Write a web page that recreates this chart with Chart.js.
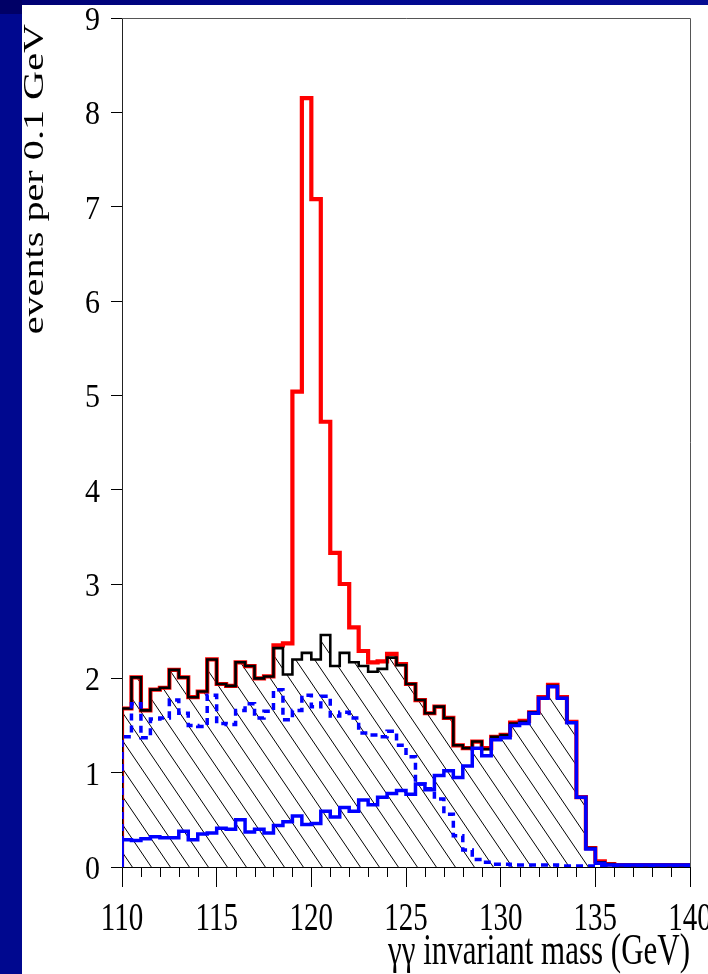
<!DOCTYPE html>
<html>
<head>
<meta charset="utf-8">
<script src="https://cdn.jsdelivr.net/npm/chart.js@4/dist/chart.umd.min.js"></script>
<style>
  html, body { margin: 0; padding: 0; width: 708px; height: 974px; overflow: hidden; background: #ffffff; }
  #wrap { position: absolute; left: 0; top: 0; width: 708px; height: 974px; }
  #leftband { position: absolute; left: 0; top: 0; width: 22px; height: 974px; background: #00088f; z-index: 2; }
  #topband { position: absolute; left: 0; top: 0; width: 708px; height: 5px; background: linear-gradient(90deg, #000070, #00088f 40%, #060c92); z-index: 2; }
  #corner { position: absolute; left: 0; top: 0; width: 22px; height: 14px; background: #000066; z-index: 3; }
</style>
</head>
<body>
<div id="wrap"><canvas id="c" width="708" height="974"></canvas></div>
<div id="leftband"></div>
<div id="topband"></div>
<div id="corner"></div>
<script>
// Lower edges of the 0.5 GeV mass bins (GeV)
const binLow = [
  110.0, 110.5, 111.0, 111.5, 112.0, 112.5, 113.0, 113.5, 114.0, 114.5,
  115.0, 115.5, 116.0, 116.5, 117.0, 117.5, 118.0, 118.5, 119.0, 119.5,
  120.0, 120.5, 121.0, 121.5, 122.0, 122.5, 123.0, 123.5, 124.0, 124.5,
  125.0, 125.5, 126.0, 126.5, 127.0, 127.5, 128.0, 128.5, 129.0, 129.5,
  130.0, 130.5, 131.0, 131.5, 132.0, 132.5, 133.0, 133.5, 134.0, 134.5,
  135.0, 135.5, 136.0, 136.5, 137.0, 137.5, 138.0, 138.5, 139.0, 139.5
];
const binWidth = 0.5;

// Signal + background
const total = [
  1.68, 2.01, 1.66, 1.88, 1.90, 2.09, 2.01, 1.80, 1.86, 2.20,
  1.94, 1.92, 2.17, 2.13, 2.00, 2.02, 2.35, 2.37, 5.04, 8.15,
  7.08, 4.72, 3.33, 3.00, 2.54, 2.29, 2.17, 2.18, 2.26, 2.15,
  1.94, 1.77, 1.63, 1.70, 1.58, 1.29, 1.26, 1.33, 1.26, 1.38,
  1.40, 1.53, 1.55, 1.64, 1.80, 1.93, 1.80, 1.54, 0.74, 0.20,
  0.06, 0.03, 0.02, 0.02, 0.02, 0.02, 0.02, 0.02, 0.02, 0.02
];

// Total background (hatched)
const background = [
  1.68, 2.01, 1.66, 1.88, 1.90, 2.09, 2.01, 1.80, 1.86, 2.20,
  1.94, 1.92, 2.17, 2.13, 2.00, 2.02, 2.32, 2.04, 2.20, 2.27,
  2.20, 2.46, 2.13, 2.27, 2.17, 2.13, 2.07, 2.10, 2.22, 2.14,
  1.94, 1.77, 1.63, 1.70, 1.58, 1.29, 1.26, 1.33, 1.25, 1.38,
  1.40, 1.52, 1.54, 1.64, 1.79, 1.92, 1.79, 1.53, 0.74, 0.20,
  0.05, 0.03, 0.02, 0.02, 0.02, 0.02, 0.02, 0.02, 0.02, 0.02
];

// Rising background component (solid blue)
const bkgRising = [
  0.29, 0.28, 0.30, 0.32, 0.31, 0.31, 0.38, 0.29, 0.35, 0.36,
  0.41, 0.40, 0.50, 0.37, 0.40, 0.36, 0.44, 0.48, 0.54, 0.45,
  0.46, 0.59, 0.53, 0.63, 0.59, 0.71, 0.66, 0.74, 0.78, 0.81,
  0.77, 0.88, 0.82, 0.97, 1.02, 0.95, 1.07, 1.26, 1.18, 1.35,
  1.37, 1.50, 1.52, 1.63, 1.79, 1.91, 1.79, 1.53, 0.74, 0.19,
  0.04, 0.02, 0.02, 0.02, 0.02, 0.02, 0.02, 0.02, 0.02, 0.02
];

// Falling background component (dashed blue)
const bkgFalling = [
  1.38, 1.73, 1.37, 1.57, 1.58, 1.77, 1.63, 1.50, 1.49, 1.82,
  1.52, 1.51, 1.66, 1.73, 1.58, 1.65, 1.88, 1.56, 1.66, 1.82,
  1.70, 1.81, 1.60, 1.64, 1.58, 1.42, 1.40, 1.38, 1.44, 1.29,
  1.17, 0.88, 0.83, 0.72, 0.56, 0.33, 0.18, 0.08, 0.05, 0.03,
  0.03, 0.02, 0.02, 0.02, 0.02, 0.02, 0.01, 0.01, 0.01, 0.01,
  0.01, 0.01, 0.01, 0.01, 0.01, 0.01, 0.01, 0.01, 0.01, 0.01
];

const xTicks = [110, 115, 120, 125, 130, 135, 140];
const yTicks = [0, 1, 2, 3, 4, 5, 6, 7, 8, 9];
const xTitle = 'γγ invariant mass (GeV)';
const yTitle = 'events per 0.1 GeV';

// Histogram outline: start from zero at the first edge, one point per bin, close at the last edge
function histPoints(vals) {
  const pts = [{ x: binLow[0], y: 0 }];
  vals.forEach((v, i) => pts.push({ x: binLow[i], y: v }));
  pts.push({ x: binLow[vals.length - 1] + binWidth, y: vals[vals.length - 1] });
  return pts;
}

// Diagonal line hatching, running from upper left to lower right
function hatchPattern(ctx) {
  const w = 19, h = 28;
  const t = document.createElement('canvas');
  t.width = w; t.height = h;
  const g = t.getContext('2d');
  g.strokeStyle = '#000';
  g.lineWidth = 1;
  g.beginPath();
  for (const dx of [-w, 0, w]) {
    g.moveTo(dx - w, -h);
    g.lineTo(dx + 2 * w, 2 * h);
  }
  g.stroke();
  return ctx.createPattern(t, 'repeat');
}

const SERIF = "'Liberation Serif', 'Times New Roman', serif";
const canvas = document.getElementById('c');
const ctx = canvas.getContext('2d');

// Tall, narrow lettering: text is drawn with an extra stretch along the vertical
function stretchedText(ctx, text, x, y, size, sy, align, rotate) {
  ctx.save();
  ctx.translate(x, y);
  if (rotate) { ctx.rotate(-Math.PI / 2); ctx.scale(sy, 1); } else { ctx.scale(1, sy); }
  ctx.font = size + 'px ' + SERIF;
  ctx.fillStyle = '#000';
  ctx.textAlign = align;
  ctx.textBaseline = 'alphabetic';
  ctx.fillText(text, 0, 0);
  ctx.restore();
}

// Minor ticks, frame, tick labels and axis titles
const framePlugin = {
  id: 'frame',
  afterDraw(chart) {
    const { ctx, chartArea: a, scales: { x, y } } = chart;
    ctx.save();
    ctx.strokeStyle = '#000';
    ctx.lineWidth = 1;
    ctx.beginPath();
    for (let v = Math.ceil(x.min); v <= x.max; v++) {
      if (v % 5 === 0) continue;
      const px = Math.round(x.getPixelForValue(v)) + 0.5;
      ctx.moveTo(px, a.bottom);
      ctx.lineTo(px, a.bottom + 10);
    }
    ctx.stroke();
    ctx.strokeStyle = '#555';
    ctx.beginPath();
    ctx.moveTo(a.left, Math.round(a.top) + 0.5);
    ctx.lineTo(Math.round(a.right) + 0.5, Math.round(a.top) + 0.5);
    ctx.lineTo(Math.round(a.right) + 0.5, a.bottom);
    ctx.stroke();
    ctx.restore();

    x.ticks.forEach(t => stretchedText(ctx, String(t.value), x.getPixelForValue(t.value), a.bottom + 63, 29, 1.35, 'center', false));
    y.ticks.forEach(t => stretchedText(ctx, String(t.value), a.left - 22, y.getPixelForValue(t.value) + 12, 30, 1.12, 'right', false));
    stretchedText(ctx, xTitle, a.right, 964, 31, 1.45, 'right', false);
    stretchedText(ctx, yTitle, 43, a.top + 6, 30, 1.34, 'right', true);
  }
};

const lineBase = { stepped: true, pointRadius: 0, tension: 0, fill: false, borderJoinStyle: 'miter', borderCapStyle: 'butt' };

new Chart(ctx, {
  type: 'line',
  data: {
    datasets: [
      Object.assign({}, lineBase, { label: 'rising', data: histPoints(bkgRising), borderColor: '#0000ff', borderWidth: 3.5 }),
      Object.assign({}, lineBase, { label: 'falling', data: histPoints(bkgFalling), borderColor: '#0000ff', borderWidth: 3.5, borderDash: [7, 5] }),
      Object.assign({}, lineBase, { label: 'background', data: histPoints(background), borderColor: '#000000', borderWidth: 2.6, fill: 'origin', backgroundColor: hatchPattern(ctx) }),
      Object.assign({}, lineBase, { label: 'total', data: histPoints(total), borderColor: '#ff0000', borderWidth: 4.2 })
    ]
  },
  options: {
    responsive: false,
    animation: false,
    devicePixelRatio: 1,
    layout: { padding: { left: 0, top: 18, right: 18, bottom: 0 } },
    plugins: {
      legend: { display: false },
      tooltip: { enabled: false },
      filler: { drawTime: 'beforeDatasetsDraw' }
    },
    scales: {
      x: {
        type: 'linear', min: 110, max: 140,
        afterBuildTicks: s => { s.ticks = xTicks.map(v => ({ value: v })); },
        ticks: { display: false },
        grid: { drawOnChartArea: false, drawTicks: true, tickLength: 20, color: '#000', lineWidth: 1 },
        border: { display: true, color: '#000', width: 1 },
        title: { display: false },
        afterFit: s => { s.height = 107; s.paddingLeft = 0; s.paddingRight = 0; }
      },
      y: {
        type: 'linear', min: 0, max: 9,
        afterBuildTicks: s => { s.ticks = yTicks.map(v => ({ value: v })); },
        ticks: { display: false },
        grid: { drawOnChartArea: false, drawTicks: true, tickLength: 11, color: '#000', lineWidth: 1 },
        border: { display: true, color: '#222', width: 1 },
        title: { display: false },
        afterFit: s => { s.width = 122; s.paddingTop = 0; s.paddingBottom = 0; }
      }
    }
  },
  plugins: [framePlugin]
});
</script>
</body>
</html>
